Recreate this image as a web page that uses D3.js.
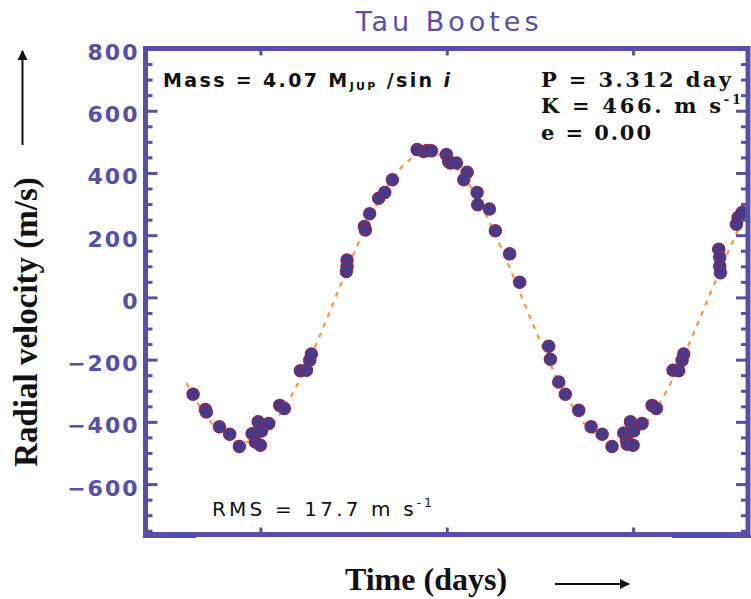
<!DOCTYPE html>
<html>
<head>
<meta charset="utf-8">
<script src="https://cdn.jsdelivr.net/npm/d3@7"></script>
<style>
  body { margin: 0; background: #fff; }
  svg { display: block; }
</style>
</head>
<body>
<div id="chart"></div>
<script>
var obsTime = [1.058,1.167,1.176,1.292,1.383,1.469,1.582,1.636,1.665,1.612,
  1.656,1.730,1.828,1.869,2.011,2.065,2.094,2.109,2.426,2.426,
  2.420,2.580,2.589,2.627,2.707,2.761,2.829,3.049,3.107,3.137,
  3.176,3.309,3.329,3.344,3.398,3.493,3.463,3.582,3.587,3.691,
  3.744,3.871,3.960,4.218,4.233,4.307,4.366,4.485,4.595,4.693,
  4.781,4.885,4.944,4.973,4.909,4.915,4.968,5.048,5.137,5.175,
  5.323,5.373,5.403,5.418,5.729,5.738,5.738,5.744,5.886,5.901,
  5.937];
var obsRv = [-311,-360,-368,-416,-440,-479,-438,-400,-429,-465,
  -475,-405,-347,-357,-236,-234,-202,-182,120,99,
  83,228,217,269,319,337,378,475,469,472,
  471,459,437,432,432,402,378,337,298,284,
  214,140,49,-157,-199,-272,-311,-363,-416,-440,
  -479,-436,-400,-429,-459,-472,-475,-405,-347,-357,
  -234,-236,-202,-182,155,128,101,79,235,257,
  273];

// fitted orbit (dashed curve), sampled off the plot
var fitTime = [1.0,1.1,1.2,1.3,1.4,1.5,1.6,1.7,1.8,1.9,
  2.0,2.1,2.2,2.3,2.4,2.5,2.6,2.7,2.8,2.9,
  3.0,3.1,3.2,3.3,3.4,3.5,3.6,3.7,3.8,3.9,
  4.0,4.1,4.2,4.3,4.4,4.5,4.6,4.7,4.8,4.9,
  5.0,5.1,5.2,5.3,5.4,5.5,5.6,5.7,5.8,5.9,5.99];
var fitRv = [-275,-341,-394,-434,-458,-466,-457,-432,-391,-336,
  -269,-192,-109,-21,67,153,233,305,366,414,
  447,464,464,448,415,368,308,236,156,70,
  -18,-105,-189,-266,-333,-389,-430,-456,-466,-459,
  -435,-396,-343,-277,-202,-120,-34,52,137,216,282];

var yTicks = [-600,-400,-200,0,200,400,600,800];
var xTicks = [1.656,3.312,4.968];
var xDomain = [0.635,5.989];
var yDomain = [-762,800];

var width = 751, height = 599;
var box = {left: 145.5, top: 48.5, right: 748, bottom: 534.5};
var axisColor = '#5850a4';

var svg = d3.select('#chart').append('svg')
  .attr('width', width)
  .attr('height', height);

var x = d3.scaleLinear().domain(xDomain).range([box.left, box.right]);
var y = d3.scaleLinear().domain(yDomain).range([box.bottom, box.top]);

// fitted curve
var line = d3.line()
  .x(function(d){ return x(d[0]); })
  .y(function(d){ return y(d[1]); })
  .curve(d3.curveNatural);

svg.append('path')
  .datum(fitTime.map(function(t, i){ return [t, fitRv[i]]; }))
  .attr('d', line)
  .attr('fill', 'none')
  .attr('stroke', '#ff9443')
  .attr('stroke-width', 2.2)
  .attr('stroke-dasharray', '5,6');

// data points
svg.append('g')
  .selectAll('circle')
  .data(obsTime.map(function(t, i){ return [t, obsRv[i]]; }))
  .enter()
  .append('circle')
  .attr('cx', function(d){ return x(d[0]); })
  .attr('cy', function(d){ return y(d[1]); })
  .attr('r', 6)
  .attr('fill', '#473a8e')
  .attr('stroke', '#7c2c58')
  .attr('stroke-width', 1.5);

// axes
var minorY = d3.range(-750, 800, 50).filter(function(v){ return v % 200 !== 0; });

function style_axis(g){
  g.select('.domain').remove();
  g.selectAll('line').attr('stroke', axisColor).attr('stroke-width', 3);
}

svg.append('g')
  .attr('transform', 'translate(' + box.left + ',0)')
  .call(d3.axisLeft(y).tickValues(minorY).tickSize(-7).tickFormat(''))
  .call(style_axis);

svg.append('g')
  .attr('transform', 'translate(' + box.right + ',0)')
  .call(d3.axisRight(y).tickValues(minorY).tickSize(-7).tickFormat(''))
  .call(style_axis);

svg.append('g')
  .attr('transform', 'translate(' + box.right + ',0)')
  .call(d3.axisRight(y).tickValues(yTicks).tickSize(-12).tickFormat(''))
  .call(style_axis);

var yAxis = svg.append('g')
  .attr('transform', 'translate(' + box.left + ',0)')
  .call(d3.axisLeft(y).tickValues(yTicks).tickSize(-12).tickPadding(6).tickFormat(d3.format('d')))
  .call(style_axis);

yAxis.selectAll('text')
  .attr('dy', '0.5em')
  .attr('fill', axisColor)
  .style('font-family', 'DejaVu Sans')
  .style('font-weight', 'bold')
  .style('font-size', '22px')
  .style('letter-spacing', '2px');

svg.append('g')
  .attr('transform', 'translate(0,' + box.top + ')')
  .call(d3.axisTop(x).tickValues(xTicks).tickSize(-7).tickFormat(''))
  .call(style_axis);

svg.append('g')
  .attr('transform', 'translate(0,' + box.bottom + ')')
  .call(d3.axisBottom(x).tickValues(xTicks).tickSize(-7).tickFormat(''))
  .call(style_axis);

// frame
svg.append('rect')
  .attr('x', box.left)
  .attr('y', box.top)
  .attr('width', box.right - box.left)
  .attr('height', box.bottom - box.top)
  .attr('fill', 'none')
  .attr('stroke', axisColor)
  .attr('stroke-width', 5);

// thicker bits at the bottom corners, as in the scan
[[143, 196], [672, 751]].forEach(function(seg){
  svg.append('line')
    .attr('x1', seg[0]).attr('x2', seg[1])
    .attr('y1', box.bottom + 2).attr('y2', box.bottom + 2)
    .attr('stroke', axisColor)
    .attr('stroke-width', 3);
});

// title
svg.append('text')
  .attr('x', 447)
  .attr('y', 31)
  .attr('text-anchor', 'middle')
  .attr('textLength', 183)
  .attr('fill', axisColor)
  .style('font-family', 'DejaVu Sans')
  .style('font-size', '27px')
  .text('Tau Bootes');

// annotations
var mass = svg.append('text')
  .attr('x', 163)
  .attr('y', 87)
  .attr('textLength', 287)
  .attr('fill', '#111')
  .style('font-family', 'DejaVu Sans')
  .style('font-weight', 'bold')
  .style('font-size', '19px');
mass.append('tspan').text('Mass = 4.07 M');
mass.append('tspan').attr('dy', 3).style('font-size', '11px').text('JUP');
mass.append('tspan').attr('dy', -3).text(' /sin ');
mass.append('tspan').style('font-style', 'italic').text('i');

function serif_text(yy, len){
  return svg.append('text')
    .attr('x', 541)
    .attr('y', yy)
    .attr('textLength', len)
    .attr('fill', '#111')
    .style('font-family', 'DejaVu Serif')
    .style('font-weight', 'bold')
    .style('font-size', '21px');
}

serif_text(87, 190).text('P = 3.312 day');
var k = serif_text(113, 200);
k.append('tspan').text('K = 466. m s');
k.append('tspan').attr('dy', -9).style('font-size', '13px').text('-1');
serif_text(140, 110).text('e = 0.00');

var rms = svg.append('text')
  .attr('x', 212)
  .attr('y', 516)
  .attr('textLength', 220)
  .attr('fill', '#111')
  .style('font-family', 'DejaVu Sans')
  .style('font-size', '20px');
rms.append('tspan').text('RMS = 17.7 m s');
rms.append('tspan').attr('dy', -9).style('font-size', '12px').text('-1');

// axis titles
svg.append('text')
  .attr('transform', 'translate(37,322) rotate(-90)')
  .attr('text-anchor', 'middle')
  .attr('fill', '#111')
  .style('font-family', 'Liberation Serif')
  .style('font-weight', 'bold')
  .style('font-size', '33px')
  .text('Radial velocity (m/s)');

svg.append('text')
  .attr('x', 426)
  .attr('y', 590)
  .attr('text-anchor', 'middle')
  .attr('fill', '#111')
  .style('font-family', 'Liberation Serif')
  .style('font-weight', 'bold')
  .style('font-size', '32px')
  .text('Time (days)');

// arrows
svg.append('defs').append('marker')
  .attr('id', 'head')
  .attr('viewBox', '0 0 10 10')
  .attr('refX', 9).attr('refY', 5)
  .attr('markerWidth', 5).attr('markerHeight', 5)
  .attr('orient', 'auto')
  .append('path')
  .attr('d', 'M0,0L10,5L0,10Z')
  .attr('fill', '#111');

svg.append('line')
  .attr('x1', 22.5).attr('y1', 145)
  .attr('x2', 22.5).attr('y2', 51)
  .attr('stroke', '#111')
  .attr('stroke-width', 2)
  .attr('marker-end', 'url(#head)');

svg.append('line')
  .attr('x1', 555).attr('y1', 584)
  .attr('x2', 629).attr('y2', 584)
  .attr('stroke', '#111')
  .attr('stroke-width', 2)
  .attr('marker-end', 'url(#head)');
</script>
</body>
</html>
